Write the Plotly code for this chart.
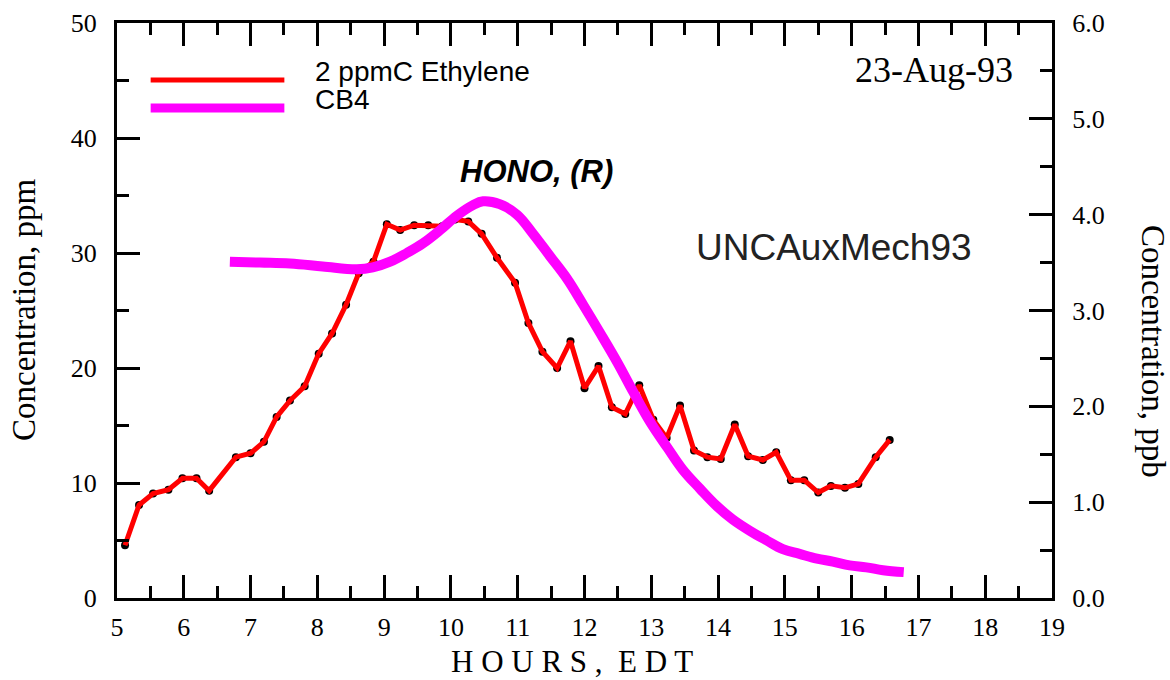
import plotly.graph_objects as go

# HONO measured in chamber, 2 ppmC ethylene run (ppb, right axis)
red_hours = [5.12, 5.33, 5.54, 5.77, 5.98, 6.19, 6.38, 6.78, 7.00, 7.20,
             7.39, 7.59, 7.81, 8.02, 8.22, 8.43, 8.62, 8.84, 9.04, 9.24,
             9.45, 9.66, 9.87, 10.06, 10.26, 10.46, 10.69, 10.96, 11.16, 11.37,
             11.59, 11.79, 12.00, 12.21, 12.41, 12.61, 12.82, 13.03, 13.23, 13.43,
             13.64, 13.84, 14.04, 14.25, 14.45, 14.67, 14.87, 15.09, 15.29, 15.50,
             15.69, 15.90, 16.10, 16.36, 16.57]
red_ppb = [0.55, 0.97, 1.09, 1.13, 1.25, 1.25, 1.12, 1.47, 1.51, 1.63,
           1.89, 2.06, 2.21, 2.55, 2.76, 3.06, 3.39, 3.51, 3.90, 3.84,
           3.89, 3.89, 3.88, 3.95, 3.93, 3.80, 3.55, 3.29, 2.87, 2.57,
           2.40, 2.68, 2.19, 2.42, 1.99, 1.92, 2.22, 1.86, 1.67, 2.01,
           1.54, 1.47, 1.45, 1.81, 1.48, 1.44, 1.52, 1.23, 1.23, 1.10,
           1.17, 1.15, 1.19, 1.47, 1.65]

# CB4 model result (ppb, right axis)
cb4_hours = [6.69, 7.14, 7.59, 8.08, 8.59, 8.83, 9.09, 9.34, 9.58, 9.84,
             10.09, 10.33, 10.48, 10.73, 10.99, 11.23, 11.48, 11.74, 11.98, 12.23,
             12.49, 12.73, 12.98, 13.24, 13.47, 13.73, 13.98, 14.22, 14.48, 14.73,
             14.97, 15.22, 15.48, 15.72, 15.97, 16.22, 16.47, 16.78]
cb4_ppb = [3.51, 3.50, 3.49, 3.46, 3.43, 3.45, 3.51, 3.60, 3.70, 3.84,
           3.99, 4.10, 4.14, 4.11, 4.00, 3.80, 3.57, 3.33, 3.06, 2.77,
           2.46, 2.15, 1.84, 1.57, 1.34, 1.14, 0.96, 0.82, 0.70, 0.60,
           0.51, 0.46, 0.41, 0.38, 0.34, 0.32, 0.29, 0.27]

legend_names = ["2 ppmC Ethylene", "CB4"]
red = "#ff0000"
magenta = "#ff00ff"
serif = "Liberation Serif"
sans = "Liberation Sans"

fig = go.Figure()
# invisible trace so the left (ppm) axis is drawn
fig.add_trace(go.Scatter(x=[red_hours[0]], y=[0], yaxis="y", mode="markers",
                         marker=dict(opacity=0), hoverinfo="skip", showlegend=False))
fig.add_trace(go.Scatter(x=red_hours, y=red_ppb, yaxis="y2", mode="markers",
                         marker=dict(color="black", size=8), showlegend=False))
fig.add_trace(go.Scatter(x=red_hours, y=red_ppb, yaxis="y2", mode="lines",
                         line=dict(color=red, width=5), showlegend=False))
fig.add_trace(go.Scatter(x=cb4_hours, y=cb4_ppb, yaxis="y2", mode="lines",
                         line=dict(color=magenta, width=10, shape="spline", smoothing=1.1),
                         showlegend=False))

axis_common = dict(showline=True, linecolor="black", linewidth=3,
                   ticks="inside", ticklen=23, tickwidth=2.5, tickcolor="black",
                   showgrid=False, zeroline=False, automargin=False,
                   tickfont=dict(family=serif, size=26, color="black"))
minor_common = dict(ticklen=12, tickwidth=2.5, ticks="inside", tickcolor="black")

fig.update_layout(
    width=1170, height=680,
    margin=dict(l=117, r=118, t=23, b=82),
    paper_bgcolor="white", plot_bgcolor="white",
    showlegend=False,
    xaxis=dict(range=[5, 19], dtick=1, mirror="ticks", ticklabelstandoff=4,
               minor=dict(dtick=0.5, **minor_common), **axis_common),
    yaxis=dict(range=[0, 50], dtick=10, ticklabelstandoff=12,
               minor=dict(dtick=5, **minor_common), **axis_common),
    yaxis2=dict(range=[0, 6], dtick=1, tickformat=".1f", overlaying="y",
                side="right", ticklabelstandoff=12,
                minor=dict(dtick=0.5, **minor_common), **axis_common),
)


def label(text, x, y, family, size, color="black", angle=0, xanchor="center"):
    fig.add_annotation(text=text, xref="paper", yref="paper", x=x, y=y,
                       xanchor=xanchor, yanchor="middle", showarrow=False,
                       textangle=angle, font=dict(family=family, size=size, color=color))


# legend samples drawn by hand (long line swatches like the original)
for color, yy, w in [(red, 0.901, 5), (magenta, 0.852, 9)]:
    fig.add_shape(type="line", xref="paper", yref="paper", x0=0.036, x1=0.179,
                  y0=yy, y1=yy, line=dict(color=color, width=w))
label(legend_names[0], 0.2096, 0.915, sans, 28, xanchor="left")
label(legend_names[1], 0.2096, 0.867, sans, 28, xanchor="left")

label("<b><i>HONO, (R)</i></b>", 0.449, 0.741, sans, 31)
label("UNCAuxMech93", 0.767, 0.609, sans, 37, color="#222222")
label("23-Aug-93", 0.874, 0.918, serif, 36)

# axis titles
label("Concentration, ppm", -0.0995, 0.501, serif, 33, angle=-90)
label("Concentration, ppb", 1.108, 0.428, serif, 33, angle=90)
label("H O U R S ,&nbsp; E D T", 0.4866, -0.111, serif, 31)

fig.write_html("out.html", config={"displayModeBar": False},
               post_script="document.body.style.margin='0';")
